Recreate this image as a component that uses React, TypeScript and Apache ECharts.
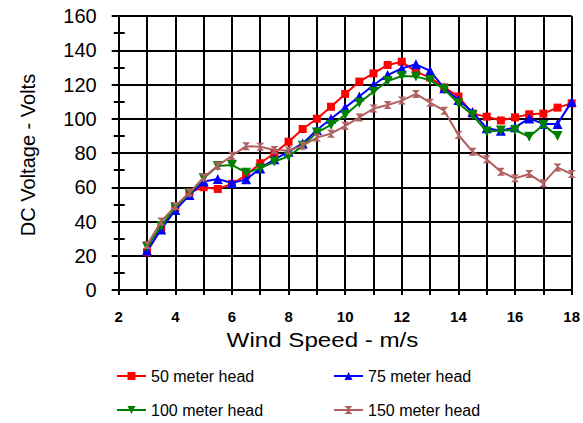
import React, { useEffect, useRef } from "react";
import * as echarts from "echarts";

// Wind speed (m/s) at each measurement point
const windSpeed = [
  3, 3.5, 4, 4.5, 5, 5.5, 6, 6.5, 7, 7.5, 8, 8.5, 9, 9.5, 10, 10.5, 11, 11.5,
  12, 12.5, 13, 13.5, 14, 14.5, 15, 15.5, 16, 16.5, 17, 17.5, 18,
];

// DC voltage (V) for each pumping head
const head50 = [
  22, 36, 48, 57, 60, 59, 62, 67, 74, 80, 86.6, 94, 100, 107, 114.5, 121.7,
  126.5, 131.4, 133.3, 127.5, 124, 118.3, 113, 103, 101.2, 99, 100.8, 102.6,
  103, 106.5, 109,
];
const head75 = [
  23, 35.4, 46.7, 55.5, 63.3, 64.8, 62.5, 64.6, 71, 76.3, 80.8, 85.6, 93.4,
  100, 106.5, 113, 119.7, 125.5, 129.4, 131.8, 128, 117.8, 111, 104, 94.4, 93,
  95, 100.2, 97, 97, 110,
];
const head100 = [
  25.3, 37.4, 48.3, 56.4, 65.2, 72.4, 73, 68.5, 71, 75, 78, 84.3, 91.9, 96.4,
  102.2, 109.4, 115.8, 122, 125, 124.6, 122.6, 117.2, 109, 102.2, 92.5, 93.2,
  93.4, 89.5, 96.4, 90, null,
];
const head150 = [
  26.3, 40, 49, 56.8, 65.8, 72.6, 78.4, 84, 83.7, 81.8, 81.4, 84.3, 89, 91.3,
  95.9, 100.8, 106, 108, 110.6, 114.5, 109.4, 104.7, 90.5, 80.8, 76.3, 69.1,
  65.2, 67.7, 62.3, 71.6, 67.7,
];

const seriesNames = [
  "50 meter head",
  "75 meter head",
  "100 meter head",
  "150 meter head",
];
const seriesValues = [head50, head75, head100, head150];

const FONT = '"Liberation Sans", Arial, sans-serif';
const colors = ["#FF0000", "#0000FF", "#008000", "#B06060"];
const hourglass = "path://M0,0L10,0L0,10L10,10Z";
const symbols = ["rect", "triangle", "path://M0,0L10,0L5,9Z", hourglass];
const symbolSizes: any[] = [8, 10, 10, [8, 8]];

// legend placement: [left, top] per entry
const legendPos = [
  [116, 368],
  [333, 368],
  [116, 402],
  [333, 402],
];

export default function App() {
  const ref = useRef<HTMLDivElement>(null);

  useEffect(() => {
    if (!ref.current) return;
    const chart = echarts.init(ref.current, null, { renderer: "svg" });

    const series = seriesNames.map((name, i) => ({
      name,
      type: "line",
      data: windSpeed.map((x, k) => [x, seriesValues[i][k]]),
      connectNulls: false,
      symbol: symbols[i],
      symbolSize: symbolSizes[i],
      showSymbol: true,
      lineStyle: { color: colors[i], width: 2 },
      itemStyle: { color: colors[i], borderWidth: 0 },
      z: 3 + i,
    }));

    const legends = seriesNames.map((name, i) => ({
      data: [name],
      left: legendPos[i][0],
      top: legendPos[i][1],
      padding: 0,
      itemWidth: 29,
      itemHeight: 10,
      itemGap: 0,
      textStyle: { fontFamily: FONT, fontSize: 16, color: "#000" },
    }));

    chart.setOption({
      animation: false,
      backgroundColor: "#fff",
      grid: { left: 118.7, right: 8, top: 16, bottom: 133, containLabel: false },
      legend: legends,
      xAxis: {
        type: "value",
        min: 2,
        max: 18,
        interval: 1,
        axisLine: { show: true, lineStyle: { color: "#000", width: 2 } },
        axisTick: { show: true, length: 5, lineStyle: { color: "#000", width: 2 } },
        splitLine: { show: true, lineStyle: { color: "#000", width: 2 } },
        axisLabel: {
          margin: 19,
          fontFamily: FONT,
          fontSize: 15,
          fontWeight: "bold",
          color: "#000",
          formatter: (v: number) => (v % 2 === 0 ? String(v) : ""),
        },
      },
      yAxis: [
        {
          type: "value",
          min: 0,
          max: 160,
          interval: 20,
          axisLine: { show: true, lineStyle: { color: "#000", width: 2 } },
          axisTick: { show: true, length: 7, lineStyle: { color: "#000", width: 2 } },
          minorTick: { show: true, splitNumber: 2, length: 5, lineStyle: { color: "#000", width: 2 } },
          splitLine: { show: true, lineStyle: { color: "#000", width: 2 } },
          axisLabel: {
            margin: 22,
            fontFamily: FONT,
            fontSize: 20,
            color: "#000",
          },
        },
        {
          type: "value",
          min: 0,
          max: 160,
          interval: 20,
          position: "left",
          axisLine: { show: false },
          axisTick: { show: false, inside: true },
          minorTick: { show: true, splitNumber: 2, length: 6, lineStyle: { color: "#000", width: 2 } },
          splitLine: { show: false },
          axisLabel: { show: false },
        },
      ],
      graphic: [
        {
          type: "text",
          x: 322.5,
          y: 340,
          scaleX: 1.15,
          style: {
            text: "Wind Speed - m/s",
            font: `21px ${FONT}`,
            fill: "#000",
            align: "center",
            verticalAlign: "middle",
          },
        },
        {
          type: "text",
          x: 27.5,
          y: 155,
          rotation: Math.PI / 2,
          style: {
            text: "DC Voltage - Volts",
            font: `20px ${FONT}`,
            fill: "#000",
            align: "center",
            verticalAlign: "middle",
          },
        },
      ],
      series,
    });

    return () => chart.dispose();
  }, []);

  return (
    <div
      ref={ref}
      style={{ position: "fixed", left: 0, top: 0, width: 583, height: 423 }}
    />
  );
}
